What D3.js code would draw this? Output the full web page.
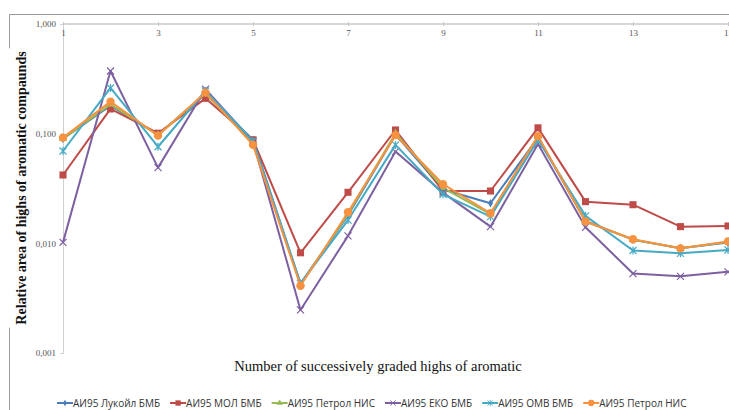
<!DOCTYPE html>
<html>
<head>
<meta charset="utf-8">
<script src="https://cdn.jsdelivr.net/npm/d3@7/dist/d3.min.js"></script>
<style>
  html, body { margin: 0; padding: 0; background: #fff; }
  svg { display: block; }
</style>
</head>
<body>
<svg id="chart" width="729" height="410"></svg>
<script>
// Peak numbers (successively graded aromatic highs)
const categories = [1, 2, 3, 4, 5, 6, 7, 8, 9, 10, 11, 12, 13, 14, 15];
const tickLabels = ["1", "3", "5", "7", "9", "11", "13", "15"];
const yTickValues = [1, 0.1, 0.01, 0.001];
const yTickLabels = ["1,000", "0,100", "0,010", "0,001"];

// Relative peak areas per fuel sample
const lukoilBMB = [0.090, 0.180, 0.098, 0.230, 0.088, 0.0043, 0.0180, 0.098, 0.031, 0.0232, 0.092, 0.0160, 0.0108, 0.0090, 0.0102];
const molBMB    = [0.042, 0.168, 0.101, 0.210, 0.088, 0.0082, 0.0292, 0.108, 0.030, 0.0300, 0.113, 0.0240, 0.0225, 0.0142, 0.0144];
const petrolNISgreen = [0.090, 0.185, 0.097, 0.232, 0.082, 0.0042, 0.0185, 0.101, 0.032, 0.0185, 0.094, 0.0158, 0.0108, 0.0090, 0.0103];
const ekoBMB    = [0.0102, 0.373, 0.049, 0.255, 0.085, 0.00247, 0.0117, 0.0686, 0.029, 0.0142, 0.0805, 0.0140, 0.0053, 0.0050, 0.0055];
const omvBMB    = [0.0695, 0.261, 0.076, 0.245, 0.086, 0.0043, 0.0163, 0.079, 0.028, 0.0175, 0.088, 0.0178, 0.0086, 0.0081, 0.0087];
const petrolNIS = [0.092, 0.196, 0.096, 0.237, 0.079, 0.0041, 0.0192, 0.097, 0.0346, 0.0188, 0.095, 0.0158, 0.0109, 0.0090, 0.0104];

const seriesNames = ["АИ95 Лукойл БМБ", "АИ95 МОЛ БМБ", "АИ95 Петрол НИС", "АИ95 ЕКО БМБ", "АИ95 ОМВ БМБ", "АИ95 Петрол НИС"];
const seriesValues = [lukoilBMB, molBMB, petrolNISgreen, ekoBMB, omvBMB, petrolNIS];
const seriesColors = ["#4a7ebb", "#be4b48", "#98b954", "#7d60a0", "#46aac5", "#f69240"];
const seriesMarkers = ["diamond", "square", "triangle", "cross", "star", "circle"];

const svg = d3.select("#chart");
const W = 729, H = 410;

// outer chart frame (runs off the right and bottom edges)
svg.append("path")
  .attr("d", `M9.5,${H} V14.5 H${W}`)
  .attr("fill", "none")
  .attr("stroke", "#9a9a9a")
  .attr("stroke-width", 1);

const x = d3.scalePoint().domain(categories).range([63, 728]);
const y = d3.scaleLog().domain([0.001, 1]).range([353, 24]);

// Y axis (left)
const yAxis = svg.append("g")
  .attr("transform", "translate(63,0)")
  .call(d3.axisLeft(y).tickValues(yTickValues)
    .tickFormat((d, i) => yTickLabels[i]).tickSize(3).tickPadding(4));
yAxis.select(".domain").attr("stroke", "#d0d0d0");
yAxis.selectAll(".tick line").attr("stroke", "#d0d0d0");
yAxis.selectAll("text")
  .attr("fill", "#555")
  .style("font-family", "'Liberation Serif', 'DejaVu Serif', serif")
  .style("font-size", "9px");

// X axis along the top, labels on every other peak
const xAxis = svg.append("g")
  .attr("transform", "translate(0,24)")
  .call(d3.axisBottom(x)
    .tickValues(categories.filter(c => tickLabels.includes(String(c))))
    .tickSize(0).tickPadding(6));
xAxis.select(".domain").attr("stroke", "#c8c8c8").attr("stroke-width", 1.5)
  .attr("d", `M63,0H${W}`);
xAxis.selectAll(".tick").append("line")
  .attr("y1", -2).attr("y2", 2).attr("stroke", "#c8c8c8");
xAxis.selectAll("text")
  .attr("fill", "#555")
  .style("font-family", "'Liberation Serif', 'DejaVu Serif', serif")
  .style("font-size", "9px");

// Series lines and markers
const line = d3.line().x((d, i) => x(categories[i])).y(d => y(d));

const symbolFor = {
  diamond: d3.symbol().type(d3.symbolDiamond).size(22),
  square: d3.symbol().type(d3.symbolSquare).size(50),
  triangle: d3.symbol().type(d3.symbolTriangle).size(30),
  circle: d3.symbol().type(d3.symbolCircle).size(55)
};

function drawMarker(g, kind, color) {
  if (kind === "cross") {
    g.append("path").attr("d", "M-3.5,-3.5L3.5,3.5M-3.5,3.5L3.5,-3.5")
      .attr("stroke", color).attr("stroke-width", 1.2).attr("fill", "none");
  } else if (kind === "star") {
    g.append("path").attr("d", "M-3.5,-3.5L3.5,3.5M-3.5,3.5L3.5,-3.5M0,-4V4")
      .attr("stroke", color).attr("stroke-width", 1.2).attr("fill", "none");
  } else {
    g.append("path").attr("d", symbolFor[kind]()).attr("fill", color);
  }
}

const plot = svg.append("g");
seriesValues.forEach((vals, s) => {
  const g = plot.append("g");
  g.append("path")
    .datum(vals)
    .attr("d", line)
    .attr("fill", "none")
    .attr("stroke", seriesColors[s])
    .attr("stroke-width", 2)
    .attr("stroke-linejoin", "round");
  vals.forEach((v, i) => {
    const m = g.append("g").attr("transform", `translate(${x(categories[i])},${y(v)})`);
    drawMarker(m, seriesMarkers[s], seriesColors[s]);
  });
});

// Axis titles
const yTitle = svg.append("text")
  .attr("transform", "translate(26,188) rotate(-90)")
  .attr("text-anchor", "middle")
  .style("font-family", "'Liberation Serif', 'Times New Roman', serif")
  .style("font-weight", "bold")
  .style("font-size", "14px")
  .attr("fill", "#111")
  .text("Relative area of highs of aromatic compaunds");
const titleLen = yTitle.node().getComputedTextLength();
// white backing so the frame line breaks behind the title
svg.insert("rect", () => yTitle.node())
  .attr("x", 4).attr("y", 188 - titleLen / 2 - 3)
  .attr("width", 28).attr("height", titleLen + 6)
  .attr("fill", "#fff");

svg.append("text")
  .attr("x", 378).attr("y", 371)
  .attr("text-anchor", "middle")
  .style("font-family", "'Liberation Serif', 'Times New Roman', serif")
  .style("font-size", "14.5px")
  .attr("fill", "#111")
  .text("Number of successively graded highs of aromatic");

// Legend
const legend = svg.append("g").attr("transform", "translate(57,403)");
let lx = 0;
seriesNames.forEach((name, s) => {
  const item = legend.append("g").attr("transform", `translate(${lx},0)`);
  item.append("line").attr("x1", 0).attr("x2", 16).attr("y1", 0).attr("y2", 0)
    .attr("stroke", seriesColors[s]).attr("stroke-width", 2);
  const m = item.append("g").attr("transform", "translate(8,0) scale(0.75)");
  drawMarker(m, seriesMarkers[s], seriesColors[s]);
  const t = item.append("text")
    .attr("x", 16).attr("y", 3.5)
    .style("font-family", "'Open Sans', 'Noto Sans', sans-serif")
    .style("font-size", "10px")
    .attr("fill", "#333")
    .text(name);
  lx += 16 + t.node().getComputedTextLength() + 10;
});
</script>
</body>
</html>
